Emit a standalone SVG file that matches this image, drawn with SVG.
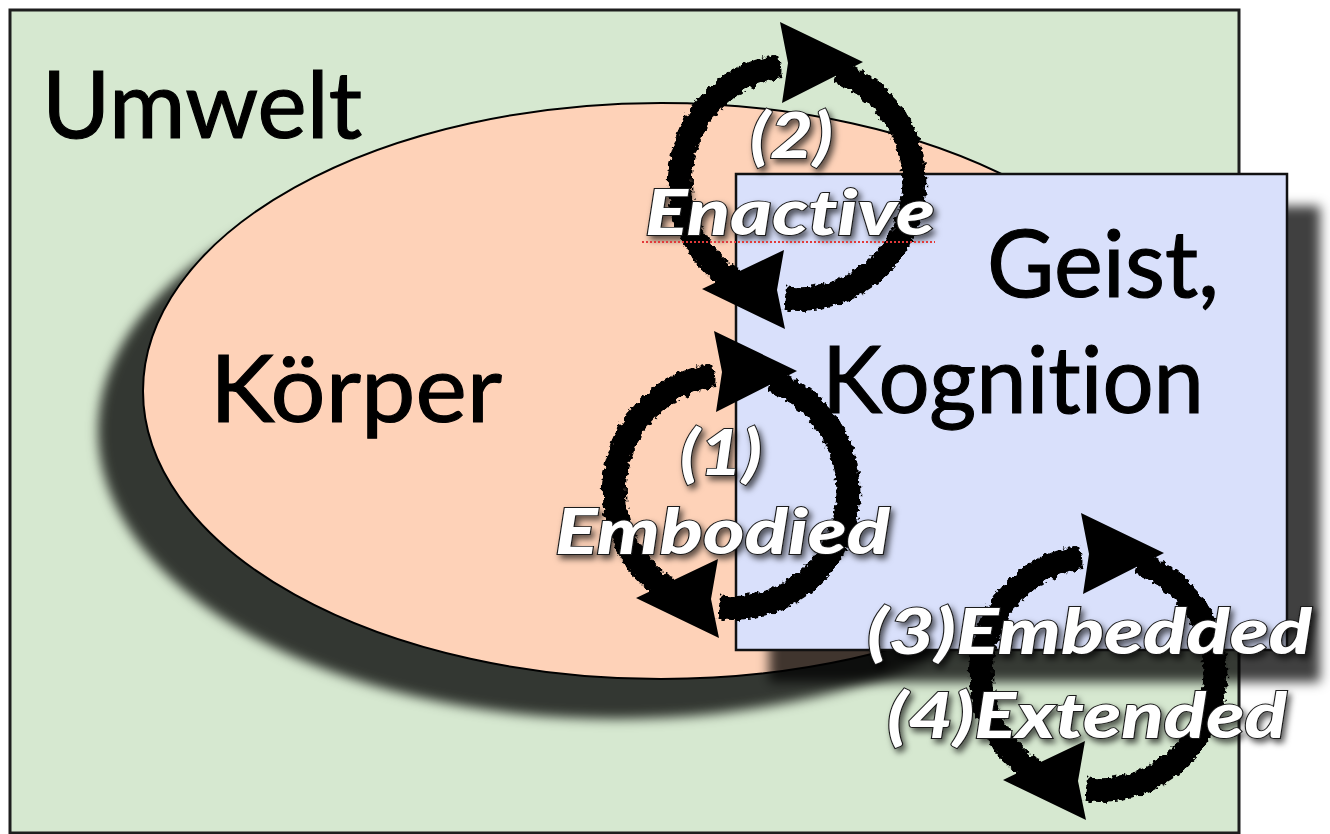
<svg xmlns="http://www.w3.org/2000/svg" width="1330" height="834" viewBox="0 0 1330 834">
  <defs>
    <style>
      .big { font-family: Lato, "Liberation Sans", sans-serif; font-size: 94px; fill: #000; stroke: #000; stroke-width: 1.2; font-variant-ligatures: none; }
      .lbl { font-family: Lato, "Open Sans", "Liberation Sans", sans-serif; font-size: 62px; font-weight: 900; font-style: italic; fill: #fff; stroke: #1a1a1a; stroke-width: 1.8; paint-order: stroke; filter: url(#tshadow); font-variant-ligatures: none; }
      .ring { fill: none; stroke: #000; stroke-width: 24; filter: url(#brush); }
      .head { fill: #000; }
    </style>
    <filter id="ellShadow" x="-15%" y="-15%" width="130%" height="140%">
      <feGaussianBlur in="SourceAlpha" stdDeviation="6"/>
      <feOffset dx="-45" dy="40" result="b"/>
      <feFlood flood-color="#000" flood-opacity="0.76"/>
      <feComposite in2="b" operator="in"/>
    </filter>
    <filter id="rectShadow" x="-10%" y="-10%" width="130%" height="130%">
      <feGaussianBlur in="SourceAlpha" stdDeviation="6"/>
      <feOffset dx="33" dy="32" result="b"/>
      <feFlood flood-color="#000" flood-opacity="0.75"/>
      <feComposite in2="b" operator="in"/>
    </filter>
    <filter id="tshadow" x="-10%" y="-20%" width="130%" height="160%">
      <feDropShadow dx="3" dy="4" stdDeviation="3" flood-color="#000" flood-opacity="0.65"/>
    </filter>
    <filter id="brush" x="-20%" y="-20%" width="140%" height="140%">
      <feTurbulence type="fractalNoise" baseFrequency="0.2" numOctaves="2" seed="4" result="n"/>
      <feDisplacementMap in="SourceGraphic" in2="n" scale="9" xChannelSelector="R" yChannelSelector="G"/>
    </filter>
    <g id="cycle">
      <path class="ring" d="M -50 105.8 A 117 117 0 0 1 -16.3 -115.9"/>
      <path class="ring" d="M 40 -110 A 117 117 0 0 1 -12.2 116.4"/>
      <path class="head" d="M -17 -160 L 66 -120 L -15 -79 L -9 -119 Z"/>
      <path class="head" d="M -13 68 L -95 107 L -12 147 L -20 108 Z"/>
    </g>
  </defs>

  <g id="umwelt">
    <rect x="10" y="10" width="1229" height="823" fill="#d6e8d0" stroke="#1e1e1e" stroke-width="3"/>
    <text class="big" x="42" y="138" textLength="320" lengthAdjust="spacingAndGlyphs">Umwelt</text>
  </g>

  <g id="koerper">
    <ellipse cx="661" cy="391" rx="518" ry="288" filter="url(#ellShadow)"/>
    <ellipse cx="661" cy="391" rx="518" ry="288" fill="#fed2b8" stroke="#000" stroke-width="2"/>
    <text class="big" x="210" y="422" textLength="292" lengthAdjust="spacingAndGlyphs">Körper</text>
  </g>

  <g id="geist">
    <rect x="736" y="174" width="551" height="476" filter="url(#rectShadow)"/>
    <rect x="736" y="174" width="551" height="476" fill="#d9e0fb" stroke="#111" stroke-width="2.5"/>
    <text class="big" x="987" y="297" textLength="232" lengthAdjust="spacingAndGlyphs">Geist,</text>
    <text class="big" x="822" y="413" textLength="382" lengthAdjust="spacingAndGlyphs">Kognition</text>
  </g>

  <g id="connectors">
    <use href="#cycle" transform="translate(797 182)"/>
    <use href="#cycle" transform="translate(731 491)"/>
    <use href="#cycle" transform="translate(1098 673)"/>
  </g>

  <g id="enactive">
    <text class="lbl" x="750" y="158" textLength="83" lengthAdjust="spacingAndGlyphs">(2)</text>
    <text class="lbl" x="645" y="235" textLength="290" lengthAdjust="spacingAndGlyphs">Enactive</text>
    <line x1="642" y1="242" x2="935" y2="242" stroke="#e23a3a" stroke-width="2" stroke-dasharray="2 2"/>
  </g>
  <g id="embodied">
    <text class="lbl" x="680" y="475" textLength="82" lengthAdjust="spacingAndGlyphs">(1)</text>
    <text class="lbl" x="555" y="554" textLength="335" lengthAdjust="spacingAndGlyphs">Embodied</text>
  </g>
  <g id="embedded-extended">
    <text class="lbl" x="867" y="654" textLength="445" lengthAdjust="spacingAndGlyphs">(3)Embedded</text>
    <text class="lbl" x="887" y="738" textLength="400" lengthAdjust="spacingAndGlyphs">(4)Extended</text>
  </g>
</svg>
